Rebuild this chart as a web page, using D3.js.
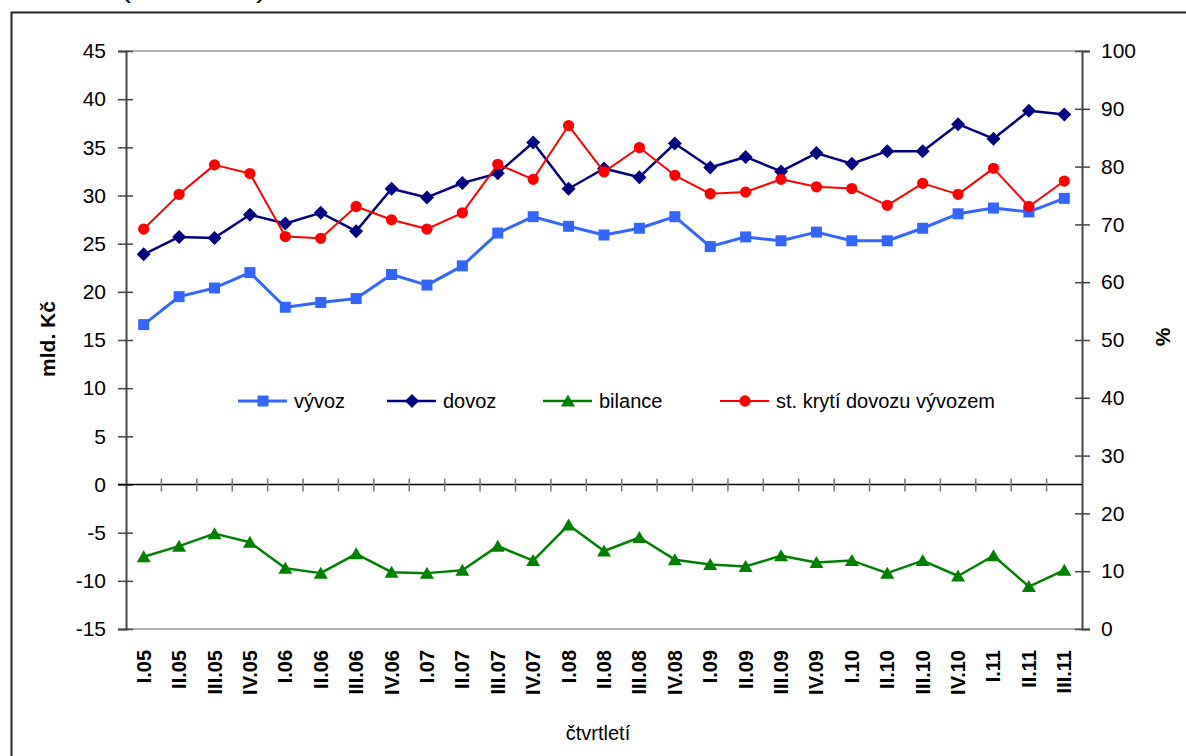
<!DOCTYPE html>
<html>
<head>
<meta charset="utf-8">
<script src="https://cdn.jsdelivr.net/npm/d3@7"></script>
<style>
  body { margin: 0; background: #fff; }
  svg { display: block; font-family: "Liberation Sans", Arial, sans-serif; }
  .axis text { font-size: 21px; fill: #000; }
  .axis path, .axis line { stroke: #444; }
  .cat { font-size: 20px; font-weight: bold; }
  .legend text { font-size: 20px; }
</style>
</head>
<body>
<svg id="chart"></svg>
<script>
const categories = ["I.05", "II.05", "III.05", "IV.05", "I.06", "II.06", "III.06", "IV.06",
  "I.07", "II.07", "III.07", "IV.07", "I.08", "II.08", "III.08", "IV.08",
  "I.09", "II.09", "III.09", "IV.09", "I.10", "II.10", "III.10", "IV.10",
  "I.11", "II.11", "III.11"];

const vyvoz = [16.6, 19.5, 20.4, 22.0, 18.4, 18.9, 19.3, 21.8, 20.7, 22.7, 26.1, 27.8, 26.8, 25.9,
  26.6, 27.8, 24.7, 25.7, 25.3, 26.2, 25.3, 25.3, 26.6, 28.1, 28.7, 28.3, 29.7];
const dovoz = [23.9, 25.7, 25.6, 28.0, 27.1, 28.2, 26.3, 30.7, 29.8, 31.3, 32.3, 35.5, 30.7, 32.8,
  31.9, 35.4, 32.9, 34.0, 32.5, 34.4, 33.3, 34.6, 34.6, 37.4, 35.9, 38.8, 38.4];
const bilance = [-7.5, -6.4, -5.1, -6.0, -8.7, -9.2, -7.2, -9.1, -9.2, -8.9, -6.4, -7.9, -4.2, -6.9,
  -5.5, -7.8, -8.3, -8.5, -7.4, -8.1, -7.9, -9.2, -7.9, -9.5, -7.4, -10.6, -8.9];
const kryti = [69.2, 75.2, 80.3, 78.8, 67.9, 67.6, 73.1, 70.8, 69.2, 72.0, 80.4, 77.8, 87.1, 79.1,
  83.3, 78.5, 75.3, 75.6, 77.8, 76.5, 76.2, 73.3, 77.1, 75.2, 79.7, 73.1, 77.5];

const leftTicks = [-15, -10, -5, 0, 5, 10, 15, 20, 25, 30, 35, 40, 45];
const rightTicks = [0, 10, 20, 30, 40, 50, 60, 70, 80, 90, 100];

const width = 1186;
const height = 756;
const plot = { left: 126, right: 1082, top: 51, bottom: 629 };

const svg = d3.select("#chart")
    .attr("width", width)
    .attr("height", height);

// cut-off heading above the frame
svg.append("text")
    .attr("x", 121)
    .attr("y", -2.5)
    .attr("font-size", 22)
    .attr("textLength", 145)
    .attr("lengthAdjust", "spacingAndGlyphs")
    .text("(v mld. Kč)");

svg.append("rect")
    .attr("x", 11.5)
    .attr("y", 12.5)
    .attr("width", 1250)
    .attr("height", 800)
    .attr("fill", "none")
    .attr("stroke", "#222")
    .attr("stroke-width", 2);

const x = d3.scaleBand()
    .domain(categories)
    .range([plot.left, plot.right])
    .padding(0);
const cx = d => x(d) + x.bandwidth() / 2;

const yL = d3.scaleLinear().domain([-15, 45]).range([plot.bottom, plot.top]);
const yR = d3.scaleLinear().domain([0, 100]).range([plot.bottom, plot.top]);

// plot border lines
svg.append("line")
    .attr("x1", plot.left).attr("x2", plot.right)
    .attr("y1", plot.top).attr("y2", plot.top)
    .attr("stroke", "#999").attr("stroke-width", 1.5);
svg.append("line")
    .attr("x1", plot.left).attr("x2", plot.right)
    .attr("y1", plot.bottom).attr("y2", plot.bottom)
    .attr("stroke", "#999").attr("stroke-width", 1.5);

const axisL = svg.append("g")
    .attr("class", "axis")
    .attr("transform", `translate(${plot.left},0)`)
    .call(d3.axisLeft(yL).tickValues(leftTicks).tickFormat(d => String(d))
      .tickSizeOuter(0).tickSize(8).tickPadding(12));
axisL.selectAll(".tick line").attr("x1", 7).attr("stroke-width", 1.5);
axisL.select(".domain").attr("stroke-width", 2);

const axisR = svg.append("g")
    .attr("class", "axis")
    .attr("transform", `translate(${plot.right},0)`)
    .call(d3.axisRight(yR).tickValues(rightTicks).tickFormat(d => String(d))
      .tickSizeOuter(0).tickSize(8).tickPadding(11));
axisR.selectAll(".tick line").attr("x1", -7).attr("stroke-width", 1.5);
axisR.select(".domain").attr("stroke-width", 2);

// zero line with category ticks
svg.append("line")
    .attr("x1", plot.left - 8).attr("x2", plot.right)
    .attr("y1", yL(0)).attr("y2", yL(0))
    .attr("stroke", "#000").attr("stroke-width", 1.5);
svg.append("g")
    .selectAll("line")
    .data(categories.slice(1))
    .enter()
    .append("line")
    .attr("x1", d => x(d)).attr("x2", d => x(d))
    .attr("y1", yL(0) - 6).attr("y2", yL(0) + 7)
    .attr("stroke", "#777").attr("stroke-width", 1.5);

svg.append("g")
    .selectAll("text")
    .data(categories)
    .enter()
    .append("text")
    .attr("class", "cat")
    .attr("transform", d => `translate(${cx(d)},650) rotate(-90)`)
    .attr("text-anchor", "end")
    .attr("dominant-baseline", "central")
    .text(d => d);

svg.append("text")
    .attr("transform", "translate(47,339) rotate(-90)")
    .attr("text-anchor", "middle")
    .attr("dominant-baseline", "central")
    .attr("font-size", 21)
    .attr("font-weight", "bold")
    .text("mld. Kč");

svg.append("text")
    .attr("transform", "translate(1162,337) rotate(-90)")
    .attr("text-anchor", "middle")
    .attr("dominant-baseline", "central")
    .attr("font-size", 21)
    .attr("font-weight", "bold")
    .text("%");

svg.append("text")
    .attr("x", 598)
    .attr("y", 740)
    .attr("text-anchor", "middle")
    .attr("font-size", 20)
    .text("čtvrtletí");

const squarePath = "M-5.5,-5.5H5.5V5.5H-5.5Z";
const diamondPath = "M0,-7L7,0L0,7L-7,0Z";
const trianglePath = "M0,-6.5L7,5.5L-7,5.5Z";
const circlePath = d3.symbol(d3.symbolCircle, 100)();

const series = [
  { name: "vývoz", values: vyvoz, y: yL, color: "#3366FF", width: 3, marker: squarePath },
  { name: "dovoz", values: dovoz, y: yL, color: "#000080", width: 2.5, marker: diamondPath },
  { name: "bilance", values: bilance, y: yL, color: "#008000", width: 2.5, marker: trianglePath },
  { name: "st. krytí dovozu vývozem", values: kryti, y: yR, color: "#FF0000", width: 2, marker: circlePath }
];

series.forEach(s => {
  const line = d3.line()
      .x((d, i) => cx(categories[i]))
      .y(d => s.y(d));

  svg.append("path")
      .datum(s.values)
      .attr("fill", "none")
      .attr("stroke", s.color)
      .attr("stroke-width", s.width)
      .attr("stroke-linejoin", "round")
      .attr("d", line);

  svg.append("g")
      .selectAll("path")
      .data(s.values)
      .enter()
      .append("path")
      .attr("d", s.marker)
      .attr("fill", s.color)
      .attr("transform", (d, i) => `translate(${cx(categories[i])},${s.y(d)})`);
});

// legend
const legendX = [238, 387, 543, 720];
const legend = svg.append("g")
    .attr("class", "legend")
    .selectAll("g")
    .data(series)
    .enter()
    .append("g")
    .attr("transform", (d, i) => `translate(${legendX[i]},401)`);

legend.append("line")
    .attr("x1", 0).attr("x2", 49)
    .attr("stroke", d => d.color)
    .attr("stroke-width", d => d.width);

legend.append("path")
    .attr("d", d => d.marker)
    .attr("fill", d => d.color)
    .attr("transform", "translate(25,0)");

legend.append("text")
    .attr("x", 56)
    .attr("dominant-baseline", "central")
    .text(d => d.name);
</script>
</body>
</html>
